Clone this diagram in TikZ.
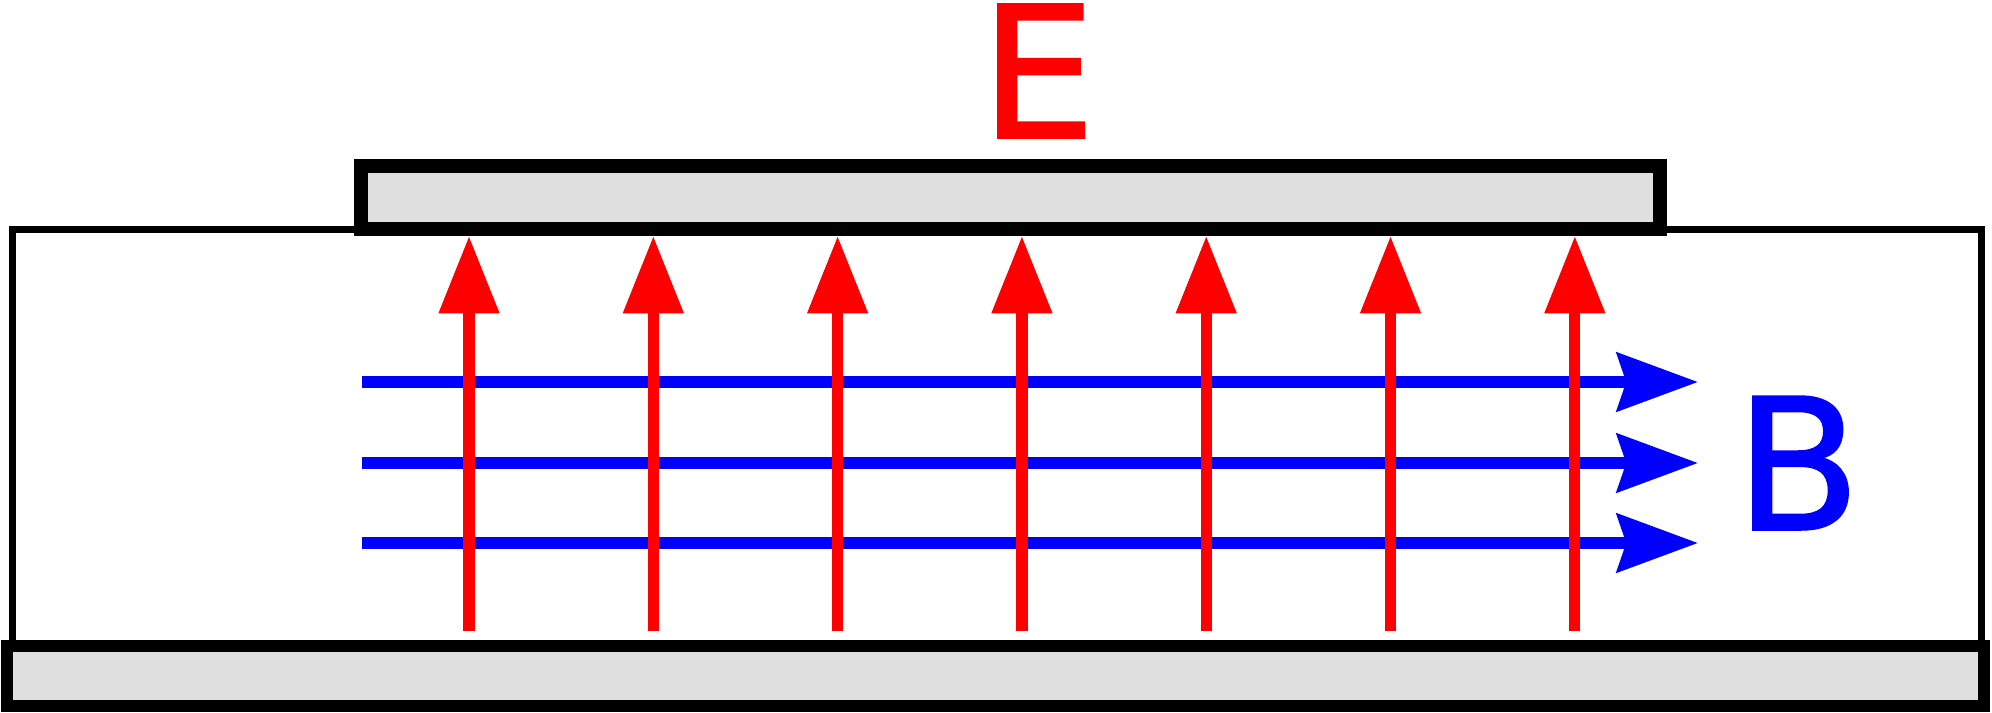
\documentclass[tikz,border=0pt]{standalone}
\usepackage{fontspec}
\newfontfamily\fieldfont[FakeBold=1.2]{DejaVu Sans}
\usetikzlibrary{arrows.meta,calc}
\definecolor{plategray}{RGB}{223,223,223}

\begin{document}
\begin{tikzpicture}[x=0.01cm,y=-0.01cm,
	plate/.style={draw=black, fill=plategray},
	gap/.style={draw=black, line width=2pt},
	efield/.style={draw=red, line width=3.2pt, -{Triangle[length=22pt,width=16.5pt]}},
	bfield/.style={draw=blue, line width=3.3pt, -{Stealth[length=23pt,width=16.5pt,inset=2.6pt]}},
	fieldlabel/.style={font=\fieldfont\fontsize{52}{52}\selectfont, inner sep=0pt},
	]
	\useasboundingbox (0,0) rectangle (1992,712);

	\draw[gap] (12.5,229.5) rectangle (1981.5,646);

	\draw[plate, line width=3.6pt] (7,646) rectangle (1984,706);

	% magnetic field
	\foreach \y in {382,463,543}
		\draw[bfield] (362,\y) -- (1698,\y);

	% electric field
	\foreach \i in {0,...,6}
		\draw[efield] ({469+184.3*\i},631) -- ({469+184.3*\i},236);

	\draw[plate, line width=4pt] (361,166) rectangle (1660,229);

	\node[fieldlabel, text=red] (elabel) at (1038,71) {E};
	\node[fieldlabel, text=blue] (blabel) at (1798,463) {B};

\end{tikzpicture}
\end{document}
